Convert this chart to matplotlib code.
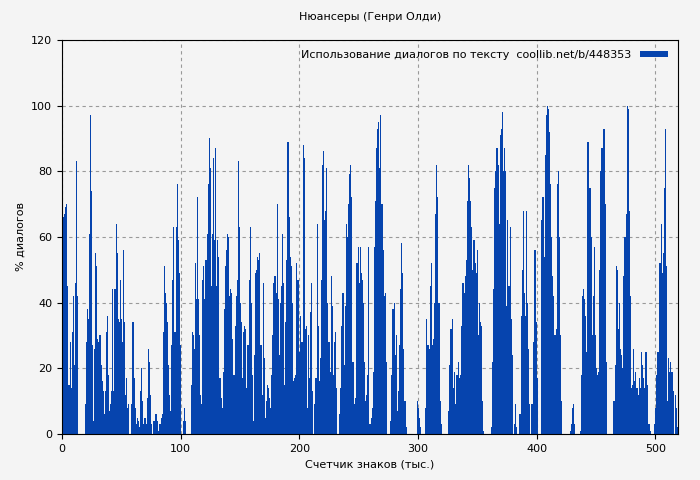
import matplotlib
matplotlib.use("Agg")
import matplotlib.pyplot as plt
import numpy as np

seg1 = [44,66,67,69,70,45,15,28,14,31,42,21,46,83,42,
        0,0,0,0,0,0,
        9,28,38,35,61,97,74,27,4,
        26,55,51,29,28,30,21,16,13,6,
        13,31,36,18,7,9,13,44,
        13,44,64,55,35,34,47,35,28,56,34,12,17,8,9,
        0,9,34,34,17,8,3,5,4,2,13,20,10,3,5,3,11,26,22,12,3,0,4,4,6,6,4,
        1,3,5,6,31,51,43,40,34,21,12,
        7,27,47,63,31,63,76,59,49,27,
        0,0,4,8,4,0,0,0,0,
        15,31,30,26,52,41,72,41,30,12,9,47,51,41,53,61,76,90,81,45,61,84,59]
seg2 = [87,45,59,54,17,11,8,19,38,51,56,61,60,42,44,43,29,18,33,42,47,83,63,40,34,17,31,33,32,14,
        27,47,63,40,18,4,24,49,50,54,53,55,27,12,46,23,5,10,15,14,11,8,18,30,46,48,43,70,41,24,
        40,45,61,46,15,34,53,89,66,54,51,40,16,17,18,52,47,47,25,36,28,88,84,32,33,8,30,17,37,46,
        13,0,9,17,64,33,16,23,47,82,86,65,68,81,40,28,19,48,39,18,28,31,14,0,0,6,14,33,43,21,
        39,64,60,70,79,82,72,22,22,9,11,52,57,46,57,49,47,40,22,10,12,18,57]
seg3 = [3,5,8,19,57,71,87,93,95,81,97,70,56,42,43,22,0,0,0,4,18,38,40,24,30,7,13,27,44,58,49,26,10,2,
        0,0,0,0,0,0,0,0,0,10,8,5,2,0,0,0,0,8,35,27,26,45,52,27,29,40,67,82,72,40,10,3,
        0,0,0,0,0,0,7,21,32,35,14,19,9,18,18,22,17,18,33,46,43,48,53,71,82,78,71,63,50,59,52,49,56,30,40,34,33,10,1,
        0,0,0,0,0,0,2,22,44,75,80,87,82,64,91,93,98,80,87,80,39,65,45,63,35,24,0,3,9,2,0,0,6,36,50,68,43]
seg4 = [36,68,40,26,9,0,9,28,56,56,34,17,0,0,0,65,72,54,85,97,100,99,92,76,60,48,42,30,32,76,80,60,30,10,
        0,0,0,0,0,0,0,1,3,8,9,3,0,0,0,0,1,18,42,44,41,36,25,89,89,75,60,30,42,57,30,20,18,19,50,80,87,93,93,70,22,
        0,0,0,0,0,0,10,21,51,50,32,40,26,24,20,48,60,67,100,99,68,42,14,15,26,16,19,14,12,17,14,25,21,17,14,25,25,15,3,1,
        0,0,0,3,8,18,25,25,52,64,49,55,75,93,51,10,23,19,22,19,13,0,12,8,2]
segments = [seg1, seg2, seg3, seg4]
seg_ranges = [(0, 129), (129, 259), (259, 390), (390, 519)]

fig = plt.figure(figsize=(7, 4.8), dpi=100, facecolor="#f4f4f4")
ax = fig.add_axes([0.0886, 0.096, 0.880, 0.821])
ax.set_facecolor("#f4f4f4")
for i, (seg, (a, b)) in enumerate(zip(segments, seg_ranges)):
    w = (b - a) / len(seg)
    xs = a + w * (np.arange(len(seg)) + 0.5)
    ax.bar(xs, seg, width=w, color="#0644ae", linewidth=0,
           label="Использование диалогов по тексту  coollib.net/b/448353" if i == 0 else None)
ax.set_xlim(0, 519)
ax.set_ylim(0, 120)
ax.set_yticks(range(0, 121, 20))
ax.set_xticks(range(0, 519, 100))
ax.grid(True, linestyle=(0, (3, 3)), color="#999999", linewidth=0.8)
ax.set_axisbelow(True)
ax.tick_params(labelsize=8)
ax.set_title("Нюансеры (Генри Олди)", fontsize=8, pad=14)
ax.set_xlabel("Счетчик знаков (тыс.)", fontsize=8)
ax.set_ylabel("% диалогов", fontsize=8)
ax.legend(loc="upper right", fontsize=8, frameon=False, markerfirst=False,
          handlelength=2.5, handleheight=0.5)
fig.savefig("out.png", dpi=100, facecolor=fig.get_facecolor())
